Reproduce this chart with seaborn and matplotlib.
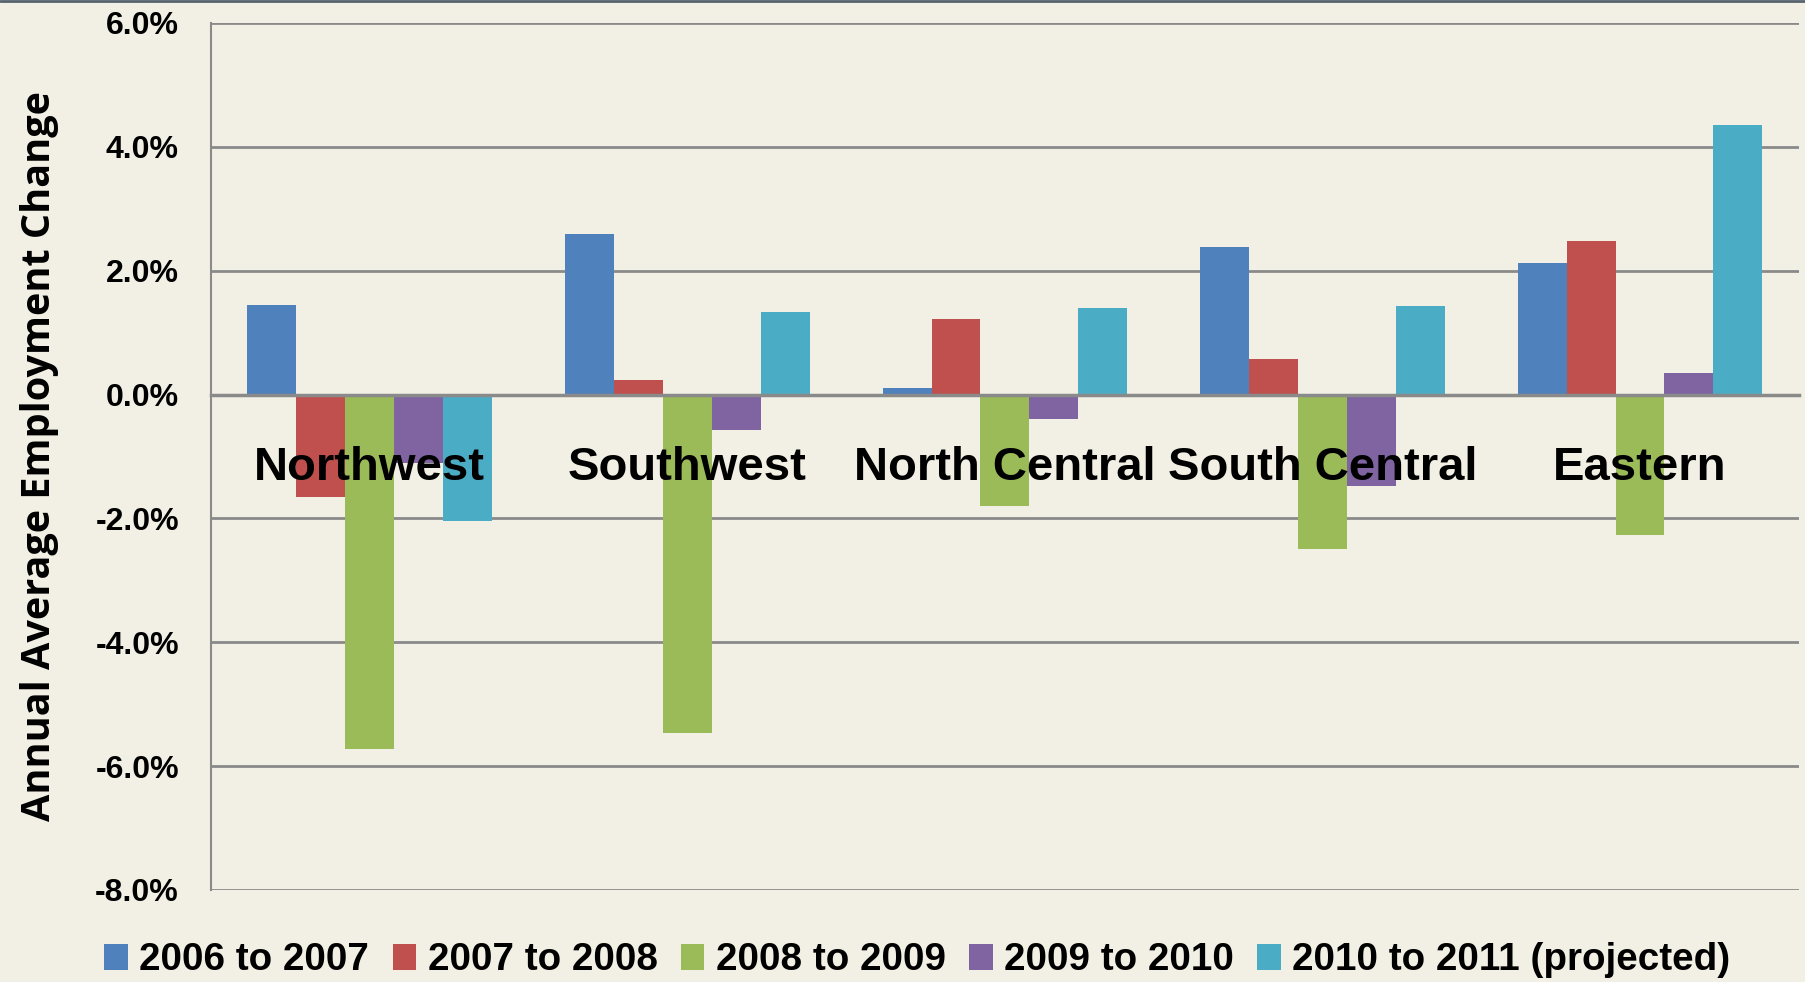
import matplotlib
matplotlib.use("Agg")
import matplotlib.pyplot as plt
import matplotlib.ticker as mticker
from matplotlib import font_manager
from matplotlib.lines import Line2D
import pandas as pd
import seaborn as sns

# data (annual average employment change, %)
regions = ["Northwest", "Southwest", "North Central", "South Central", "Eastern"]
periods = ["2006 to 2007", "2007 to 2008", "2008 to 2009", "2009 to 2010",
           "2010 to 2011 (projected)"]
chg_2006_2007 = [1.45, 2.60, 0.10, 2.38, 2.12]
chg_2007_2008 = [-1.65, 0.23, 1.22, 0.58, 2.48]
chg_2008_2009 = [-5.72, -5.47, -1.80, -2.49, -2.26]
chg_2009_2010 = [-1.10, -0.58, -0.39, -1.48, 0.34]
chg_2010_2011 = [-2.04, 1.33, 1.39, 1.43, 4.35]
y_ticks = [6, 4, 2, 0, -2, -4, -6, -8]

colors = ["#4F81BD", "#C0504D", "#9BBB59", "#8064A2", "#4BACC6"]
bg = "#F2F0E4"
grid_c = "#8A8A8A"


def pick_font(names):
    for n in names:
        try:
            font_manager.findfont(font_manager.FontProperties(family=n),
                                  fallback_to_default=False)
            return n
        except Exception:
            continue
    return "DejaVu Sans"


main_font = pick_font(["Liberation Sans", "Arial", "DejaVu Sans"])
label_font = pick_font(["Open Sans", "DejaVu Sans"])

series = [chg_2006_2007, chg_2007_2008, chg_2008_2009, chg_2009_2010, chg_2010_2011]
rows = []
for period, vals in zip(periods, series):
    for reg, v in zip(regions, vals):
        rows.append({"region": reg, "period": period, "change": v})
df = pd.DataFrame(rows)

sns.set_style("white")
plt.rcParams["font.family"] = [main_font, "DejaVu Sans"]
plt.rcParams["text.color"] = "black"
plt.rcParams["axes.labelcolor"] = "black"

fig = plt.figure(figsize=(18.06, 9.82), dpi=100, facecolor=bg)
ax = fig.add_axes([0.1168, 0.0937, 0.8792, 0.8829])
ax.set_facecolor(bg)

sns.barplot(data=df, x="region", y="change", hue="period", order=regions,
            hue_order=periods, palette=colors, saturation=1, width=0.77,
            errorbar=None, linewidth=0, ax=ax)

ax.set_ylim(-8, 6)
ax.set_xlim(-0.5, 4.5)
ax.set_yticks(y_ticks)
ax.yaxis.set_major_formatter(mticker.FuncFormatter(lambda v, p: f"{v:.1f}%"))
ax.yaxis.grid(True, color=grid_c, linewidth=2)
ax.set_axisbelow(True)

for s in ["top", "right"]:
    ax.spines[s].set_visible(False)
ax.spines["left"].set_color(grid_c)
ax.spines["left"].set_linewidth(1.5)
ax.spines["bottom"].set_position(("data", 0))
ax.spines["bottom"].set_color(grid_c)
ax.spines["bottom"].set_linewidth(2.5)
ax.spines["bottom"].set_zorder(3)

ax.tick_params(axis="y", which="major", length=9, width=1.5, color=grid_c,
               labelcolor="black", pad=14, labelsize=23)
for lab in ax.get_yticklabels():
    lab.set_fontweight("bold")

ax.set_xticks(range(len(regions)))
ax.set_xticklabels(regions, fontsize=34, fontweight="bold")
ax.xaxis.set_minor_locator(mticker.FixedLocator([0.5, 1.5, 2.5, 3.5, 4.5]))
ax.tick_params(axis="x", which="major", length=0, pad=37, labelcolor="black")
ax.tick_params(axis="x", which="minor", length=9, width=1.5, color=grid_c,
               direction="out")
# category names sit on top of the bars, as in the original
ax.xaxis.set_zorder(5)
ax.set_xlabel("")

ax.set_ylabel("Annual Average Employment Change", family=[label_font, "DejaVu Sans"],
              fontsize=28.5, fontweight="bold", labelpad=26, color="black")

sns.move_legend(ax, "center", bbox_to_anchor=(0.508, 0.022),
                bbox_transform=fig.transFigure, ncol=5, frameon=False,
                title=None, handlelength=0.61, handleheight=0.64,
                handletextpad=0.3, columnspacing=0.6,
                prop={"weight": "bold", "size": 27.8})

# thin slide border along the top edge
fig.add_artist(Line2D([0, 1], [0.999, 0.999], transform=fig.transFigure,
                      color="#56636F", linewidth=2))

fig.savefig("out.png", dpi=100, facecolor=bg)
